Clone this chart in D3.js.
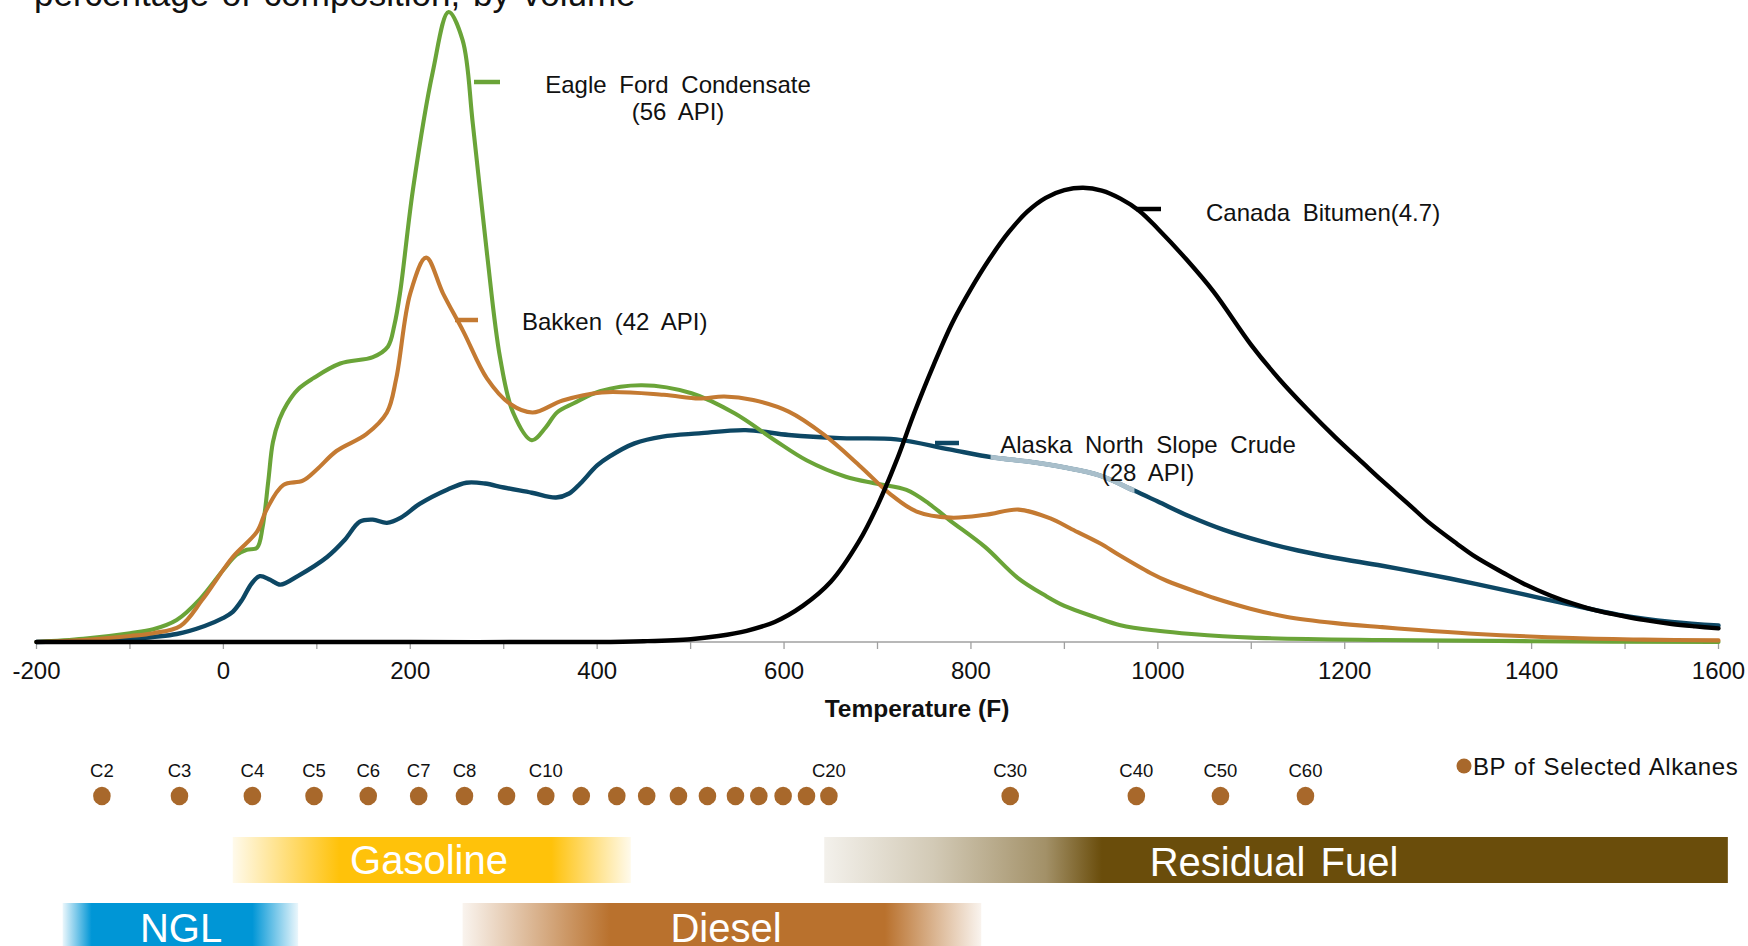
<!DOCTYPE html>
<html><head><meta charset="utf-8">
<script src="https://cdn.jsdelivr.net/npm/d3@7"></script>
<style>
html,body{margin:0;padding:0;background:#fff;overflow:hidden;}
svg{display:block;font-family:"Liberation Sans",Arial,sans-serif;}
</style></head><body>
<svg id="chart" width="1748" height="946"></svg>
<script>
// ---------- DATA ----------
const xTickValues = [-200, 0, 200, 400, 600, 800, 1000, 1200, 1400, 1600];
const xMinorTicks = [-200,-100,0,100,200,300,400,500,600,700,800,900,1000,1100,1200,1300,1400,1500,1600];

const eagleT = [-200,-150,-100,-75,-50,-25,0,14,25,36,42,48,53,60,68,80,96,125,160,176,183,189,203,224,241,256,267,282,296,310,330,345,357,375,403,448,501,547,590,624,666,701,731,755,777,815,850,880,900,933,960,1000,1036,1100,1240,1400,1600];
const eagleV = [0,0.08,0.22,0.32,0.55,1.07,1.8,2.17,2.3,2.35,2.87,4.0,4.98,5.55,5.93,6.3,6.57,6.94,7.1,7.36,7.9,8.69,11.3,14.2,15.7,15.0,12.9,9.7,7.1,5.72,5.03,5.35,5.72,5.95,6.25,6.4,6.2,5.7,5.03,4.53,4.12,3.94,3.79,3.45,3.04,2.37,1.6,1.15,0.9,0.62,0.42,0.28,0.2,0.11,0.05,0.02,0.0];

const bakkenT = [-200,-150,-100,-75,-46,-22,10,36,46,64,85,100,121,153,175,185,200,217,235,257,282,307,331,363,405,471,509,536,567,605,643,682,713,742,778,816,851,885,908,938,959,992,1010,1045,1061,1099,1137,1190,1240,1290,1342,1444,1520,1600];
const bakkenV = [0,0.05,0.15,0.22,0.4,1.07,2.12,2.75,3.29,3.91,4.02,4.3,4.76,5.18,5.72,6.57,8.69,9.58,8.69,7.73,6.57,5.93,5.72,6.02,6.22,6.16,6.07,6.12,6.03,5.74,5.16,4.37,3.7,3.25,3.1,3.17,3.3,3.08,2.81,2.46,2.16,1.72,1.52,1.22,1.09,0.83,0.63,0.47,0.37,0.28,0.2,0.1,0.06,0.04];

const alaskaT = [-200,-150,-100,-50,-20,0,10,20,30,39,50,61,80,111,130,146,160,175,190,210,240,260,280,300,330,356,370,382,400,413,440,470,509,559,605,660,720,777,823,860,900,938,974,1000,1035,1070,1112,1150,1189,1240,1291,1340,1393,1440,1495,1550,1600];
const alaskaV = [0,0.03,0.08,0.2,0.4,0.6,0.75,1.05,1.45,1.64,1.55,1.43,1.65,2.12,2.55,3.0,3.05,2.97,3.1,3.44,3.8,3.97,3.95,3.85,3.72,3.6,3.7,3.95,4.4,4.62,4.95,5.12,5.2,5.28,5.16,5.08,5.05,4.8,4.6,4.5,4.35,4.15,3.78,3.5,3.12,2.8,2.5,2.28,2.1,1.9,1.68,1.45,1.18,0.94,0.67,0.5,0.41];
const alaskaFadeRange = [821, 975];

const bitumenT = [-200,0,200,400,450,500,530,560,590,620,650,680,700,720,740,760,780,800,820,840,860,880,900,920,940,960,980,1000,1030,1060,1100,1130,1160,1190,1220,1240,1270,1290,1320,1340,1370,1390,1420,1445,1470,1495,1520,1550,1575,1600];
const bitumenV = [0,0,0,0,0.02,0.07,0.15,0.28,0.5,0.9,1.5,2.5,3.4,4.5,5.75,6.9,7.95,8.8,9.55,10.2,10.72,11.07,11.26,11.32,11.25,11.05,10.75,10.3,9.55,8.72,7.4,6.55,5.8,5.1,4.45,4.02,3.4,2.98,2.45,2.12,1.72,1.47,1.16,0.95,0.78,0.66,0.55,0.45,0.39,0.34];

const seriesNames = ["Alaska North Slope Crude", "Eagle Ford Condensate", "Bakken", "Canada Bitumen"];

const alkaneNames = ["C2","C3","C4","C5","C6","C7","C8","C9","C10","C11","C12","C13","C14","C15","C16","C17","C18","C19","C20","C30","C40","C50","C60"];
const alkaneBP = [-130,-47,31,97,155,209,258,303,345,383,421,453,487,518,548,573,599,624,648,842,977,1067,1158];
const alkaneLabeled = ["C2","C3","C4","C5","C6","C7","C8","C10","C20","C30","C40","C50","C60"];

const bandNames = ["Gasoline", "Residual Fuel", "NGL", "Diesel"];
const bandRanges = [[10, 436], [643, 1610], [-172, 80], [256, 811]];   // deg F extents
const bandSolid  = [[124, 351], [940, 1610], [-141, 31], [414, 708]];  // fully saturated part

// ---------- LAYOUT ----------
const svg = d3.select("#chart");
const x = d3.scaleLinear().domain([-200, 1600]).range([36.5, 1718.5]);
const y = d3.scaleLinear().domain([0, 16]).range([642, 0]);

// title (cut off at top, as in the source)
svg.append("text").attr("x", 34).attr("y", 6)
  .attr("font-size", 35).attr("word-spacing", 3).attr("fill", "#111")
  .text("percentage of composition, by volume");

// x axis
const axisG = svg.append("g");
axisG.append("line").attr("x1", x(-200)).attr("x2", x(1600))
  .attr("y1", y(0)).attr("y2", y(0)).attr("stroke", "#a0a0a0").attr("stroke-width", 1.5);
axisG.selectAll(".tk").data(xMinorTicks).enter().append("line")
  .attr("x1", d => x(d)).attr("x2", d => x(d))
  .attr("y1", y(0)).attr("y2", y(0) + 7)
  .attr("stroke", "#a0a0a0").attr("stroke-width", 1.3);
axisG.selectAll(".tl").data(xTickValues).enter().append("text")
  .attr("x", d => x(d)).attr("y", 679)
  .attr("text-anchor", "middle").attr("font-size", 24).attr("fill", "#111")
  .text(d => d);
svg.append("text").attr("x", 917).attr("y", 717).attr("text-anchor", "middle")
  .attr("font-size", 24.5).attr("font-weight", "bold").attr("fill", "#111")
  .text("Temperature (F)");

// curves
const line = d3.line().x(d => x(d[0])).y(d => y(d[1])).curve(d3.curveCatmullRom.alpha(0.5));
const zip = (t, v) => t.map((d, i) => [d, v[i]]);
const series = [
  {name: seriesNames[0], data: zip(alaskaT, alaskaV), color: "#0d4764", w: 4.4},
  {name: seriesNames[1], data: zip(eagleT, eagleV), color: "#6aa438", w: 4.1},
  {name: seriesNames[2], data: zip(bakkenT, bakkenV), color: "#c47a32", w: 4.1},
  {name: seriesNames[3], data: zip(bitumenT, bitumenV), color: "#000000", w: 4.4}
];
const defs = svg.append("defs");
defs.append("clipPath").attr("id", "fadeClip").append("rect")
  .attr("x", x(alaskaFadeRange[0])).attr("width", x(alaskaFadeRange[1]) - x(alaskaFadeRange[0]))
  .attr("y", 0).attr("height", 700);

const curveG = svg.append("g").attr("fill", "none").attr("stroke-linejoin", "round").attr("stroke-linecap", "round");
series.forEach((s, i) => {
  curveG.append("path").attr("d", line(s.data)).attr("stroke", s.color).attr("stroke-width", s.w);
  if (i === 0) {
    curveG.append("path").attr("d", line(s.data)).attr("stroke", "#a9bfcb")
      .attr("stroke-width", s.w + 0.5).attr("clip-path", "url(#fadeClip)").attr("stroke-linecap", "butt");
  }
});

// annotations
const ann = svg.append("g").attr("font-size", 24).attr("word-spacing", 6).attr("fill", "#111");
function tick(x1, x2, yy, c) {
  svg.append("line").attr("x1", x1).attr("x2", x2).attr("y1", yy).attr("y2", yy)
    .attr("stroke", c).attr("stroke-width", 4.5);
}
tick(474, 500, 82, "#6aa438");
ann.append("text").attr("x", 678).attr("y", 93).attr("text-anchor", "middle").text("Eagle Ford Condensate");
ann.append("text").attr("x", 678).attr("y", 120).attr("text-anchor", "middle").text("(56 API)");
tick(455, 478, 320, "#c47a32");
ann.append("text").attr("x", 522).attr("y", 330).text("Bakken (42 API)");
tick(1136, 1161, 209, "#000");
ann.append("text").attr("x", 1206).attr("y", 221).text("Canada Bitumen(4.7)");
tick(935, 959, 443, "#0d4764");
ann.append("text").attr("x", 1148).attr("y", 453).attr("text-anchor", "middle").text("Alaska North Slope Crude");
ann.append("text").attr("x", 1148).attr("y", 481).attr("text-anchor", "middle").text("(28 API)");

// alkane boiling points
const alk = svg.append("g");
alk.selectAll("ellipse").data(alkaneBP).enter().append("ellipse")
  .attr("cx", d => x(d)).attr("cy", 796).attr("rx", 8.8).attr("ry", 9.3).attr("fill", "#a8682b");
alk.selectAll("text").data(alkaneNames.map((n, i) => ({n, t: alkaneBP[i]})).filter(d => alkaneLabeled.includes(d.n)))
  .enter().append("text")
  .attr("x", d => x(d.t)).attr("y", 777).attr("text-anchor", "middle")
  .attr("font-size", 18.5).attr("fill", "#111").text(d => d.n);
svg.append("circle").attr("cx", 1464).attr("cy", 766).attr("r", 7.5).attr("fill", "#a8682b");
svg.append("text").attr("x", 1473).attr("y", 775).attr("font-size", 24)
  .attr("letter-spacing", 0.6).attr("word-spacing", 1).attr("fill", "#111").text("BP of Selected Alkanes");

// product bands
const bandColor = ["#ffc20a", "#6a4d0b", "#0096d6", "#b9712d"];
const bandRow = [0, 0, 1, 1];
const rowY = [837, 903];
const bandH = 46;
bandNames.forEach((name, i) => {
  const [a, b] = bandRanges[i];
  const [sa, sb] = bandSolid[i];
  const x0 = x(a), x1 = Math.min(x(b), 1728);
  const gid = "bg" + i;
  const g = defs.append("linearGradient").attr("id", gid)
    .attr("gradientUnits", "userSpaceOnUse").attr("x1", x0).attr("x2", x1).attr("y1", 0).attr("y2", 0);
  const off = v => Math.max(0, Math.min(1, (x(v) - x0) / (x1 - x0)));
  const stops = [[0, 0.08], [off(sa), 1], [off(sb), 1], [1, sb >= b ? 1 : 0.08]];
  if (i === 1) {
    stops.splice(1, 0, [off(760), 0.3], [off(880), 0.62]);
  }
  stops.forEach(s => g.append("stop").attr("offset", s[0]).attr("stop-color", bandColor[i]).attr("stop-opacity", s[1]));
  svg.append("rect").attr("x", x0).attr("y", rowY[bandRow[i]]).attr("width", x1 - x0).attr("height", bandH)
    .attr("fill", `url(#${gid})`);
});
const bandLabelPos = [[429, 874], [1274, 876], [181, 942], [726, 942]];
bandNames.forEach((name, i) => {
  svg.append("text").attr("x", bandLabelPos[i][0]).attr("y", bandLabelPos[i][1])
    .attr("text-anchor", "middle").attr("font-size", 40).attr("fill", "#fff")
    .attr("word-spacing", 4).text(name);
});
</script>
</body></html>
